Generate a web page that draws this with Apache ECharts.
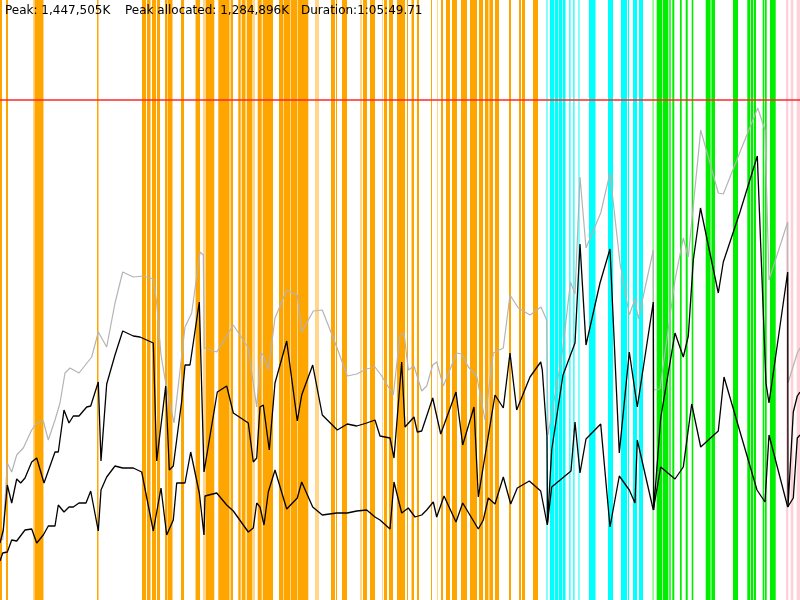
<!DOCTYPE html>
<html>
<head>
<meta charset="utf-8">
<script src="https://cdn.jsdelivr.net/npm/echarts@6/dist/echarts.min.js"></script>
<style>html,body{margin:0;padding:0;background:#fff}#c{width:800px;height:600px}</style>
</head>
<body>
<div id="c"></div>
<script>
// Time axis in units of 1/800 of the run; heap axis in units where the peak line sits at 500.
const peakLevel = 500;
const headerTexts = ['Peak: 1,447,505K', 'Peak allocated: 1,284,896K', 'Duration:1:05:49.71'];

// [start, end] time spans of collector events
const orangeBands = [[0,2],[6,8],[34.5,43],[97,98.5],[142,146],[147,150.5],[152,156],[157,160],[165,167.5],[168,172.5],[181,184],[196,200],
  [206,214.3],[218.3,229.3],[231,233],[238.3,240.7],[241.7,245.5],[246.7,252],[257.7,261.7],[262.7,273],[279,283],[284,290],[291,297],[298,308.3],
  [331,335],[336,337],[342,347],[363,367],[370,375],[384,387],[389,393],[397,405],[407,408],[412,414],[417,419],[431,432],[441,443],
  [446,450],[452,457],[461,467],[470,477],[479,483],[485,488],[489.5,493],[495,499],[509,511],[519,521],[522,525],[533,538]];
const lightOrangeBands = [[33,34.5],[43,44],[195,196],[203,206],[229.3,231],[252,255],[283,284],[290,291],[297,298],[315,319],[360,362],
  [382,383],[411,412],[437,438],[488,489.5]];
const cyanBands = [[546.5,547.5],[550,554],[554.7,558],[558.7,562],[562.7,565.5],[569.3,570.5],[573.3,574.5],[578.5,579.5],[589,595.5],
  [608,613],[621,627],[628,629],[633,637],[639,643]];
const greenBands = [[656.7,662],[662.7,668.3],[669.3,670.7],[672.3,674.3],[680,681.7],[685.7,687.7],[691.7,693.3],[705.7,710.5],[711.5,715],
  [733,738],[747.3,750],[750.7,753],[753.7,756],[762.7,764],[764.7,766.7],[770,775.7]];
const lightGreenBands = [[652.3,654],[710.5,711.5]];
const pinkBands = [[786,788.3],[790.7,793.3],[796.7,800]];

// heap after collection (grey), used heap (upper black), live set (lower black): [time, level]
const heapTotal = [[2.7,60],[7.3,137],[11.7,128],[16.7,145],[23.3,152],[31.7,170],[36.7,177],[43.3,179],[48.3,160],[55,180],[60,197],[65,227],
  [70,232],[79,227],[91.7,243],[98.3,268],[106.7,253],[115,297],[122.7,328],[133.3,323],[143.3,324],[153.3,321],[156.7,297],[161,245],
  [165.7,217],[174,177],[185,273],[191.7,287],[200,348],[203.3,345],[204.3,252],[216.7,248],[233.3,275],[248.3,252],[256.7,193],[261,247],
  [263.3,245],[268.3,230],[275,282],[286.7,310],[297.3,305],[301.7,268],[313.3,289],[322.3,290],[336.7,253],[347.3,224],[356.7,226],
  [366.7,231],[375,233],[381.7,224],[393.3,205],[400,265],[404,267],[408.3,230],[414,234],[421.7,209],[426.7,214],[432.7,235],[436.7,238],
  [443.3,214],[456.7,247],[461.7,246],[468.3,233],[476.7,224],[478.3,223],[485,180],[493.3,247],[503.3,252],[510,305],[518.3,292],
  [530,285],[541,293],[546.7,280],[548,165],[562,245],[570.5,318],[575,306],[580,423],[586,352],[600.7,387],[610,427],[620,337],
  [629.3,285],[635,301],[638.3,281],[653.3,350],[653.7,210],[660,211],[675,320],[683.3,362],[688.3,343],[700.7,470],[718.3,407],
  [723.3,406],[740,448],[757.7,492],[765,470],[769,320],[787.7,378],[788,217],[797.3,247],[800,252]];
const heapUsed = [[0,57],[3.3,70],[7.3,115],[11.7,97],[16.7,121],[20.7,117],[25,122],[31.7,138],[36.7,142],[44,117],[55,148],[58.3,148],
  [64,190],[69,177],[73.3,184],[79,184],[86.7,193],[90.7,194],[98.3,218],[101,139],[106.7,216],[115,245],[122.7,269],[133.3,264],
  [140,263],[153.3,257],[156.7,139],[165.7,214],[169.3,130],[173.3,134],[181.7,199],[185,235],[190,235],[199.3,298],[204,128],
  [217.3,208],[226.7,214],[233.3,187],[248.3,177],[253.3,138],[256.7,142],[260,193],[263.3,195],[269.3,150],[275,217],[286.7,259],
  [297.3,179],[301.7,205],[312.7,235],[322.3,185],[337.3,170],[347.3,176],[356.7,174],[366.7,177],[375,180],[380,164],[390,162],
  [394,142],[401.7,238],[405,173],[414,183],[417.3,168],[421.7,169],[432.7,202],[440.7,166],[456,208],[462.7,155],[474,193],[478.3,103],
  [495,205],[503.3,192],[510,247],[516.7,190],[530,223],[540.7,238],[542.3,230],[547,163],[547.5,77],[551.7,150],[563,225],[575,257],
  [580,356],[586,255],[600,317],[610,351],[619.3,147],[629.3,248],[637.3,193],[653.3,298],[653.7,90],[660.7,182],[675,267],[683.3,243],
  [688.3,264],[693.3,340],[700.5,392],[718.3,307],[723.3,338],[740,388],[757.3,444],[766,217],[769,197],[787.7,328],[788,93],
  [793.3,188],[797.3,204],[800,208]];
const liveSet = [[0,39],[2.7,47],[7.3,48],[11.7,60],[16.7,59],[25,70],[31.7,71],[36.7,57],[43.3,65],[48.3,74],[55,74],[58.3,95],[64,88],
  [69,93],[73.3,93],[79,97],[86,97],[90.7,109],[98.3,69],[101,110],[106.7,123],[115,134],[122.7,132],[133.3,132],[141.7,128],[153.3,69],
  [161,112],[166.7,65],[173.3,80],[176.7,117],[185,117],[190.7,148],[199.3,107],[204,65],[205,104],[216.7,107],[226.7,95],[233.3,89],
  [248.3,68],[253.3,72],[256.7,97],[260,93],[264,75],[268.3,108],[275,130],[286.7,91],[297.3,102],[301.7,118],[312.7,93],[322.3,85],
  [336.7,87],[347.3,87],[356.7,89],[366.7,90],[375,83],[380,80],[390,71],[394,118],[401.7,87],[408.3,92],[415,83],[421.7,85],[426.7,90],
  [433.3,98],[436.7,83],[444,104],[456,78],[462.7,97],[478.3,71],[483.3,80],[488.3,102],[495,96],[503.3,123],[510.7,96],[517.3,112],
  [529.3,119],[540.7,109],[547.3,75],[551.7,113],[571,129],[575,178],[580,127],[586,161],[600.7,176],[610,73],[619.3,124],[629.3,110],
  [635,97],[637.3,160],[653.3,90],[660.7,133],[675,121],[683.3,133],[691.7,196],[700.7,153],[718.3,169],[724,223],[757,110],[765,98],
  [769,165],[787.7,93],[793.3,102],[797.3,162],[800,165]];

function areas(list, color) {
  return list.map(b => [{ xAxis: b[0], itemStyle: { color: color, opacity: 1, borderWidth: 0 } }, { xAxis: b[1] }]);
}

const chart = echarts.init(document.getElementById('c'), null, { renderer: 'canvas' });
const font = 'DejaVu Sans';
chart.setOption({
  animation: false,
  backgroundColor: '#ffffff',
  grid: { left: 0, right: 0, top: 0, bottom: 0 },
  xAxis: { type: 'value', min: 0, max: 800, show: false },
  yAxis: { type: 'value', min: 0, max: 600, show: false },
  graphic: [
    { type: 'text', left: 5, top: 5, z: 100, style: { text: headerTexts[0], font: '12px ' + font, fill: '#000' } },
    { type: 'text', left: 125, top: 5, z: 100, style: { text: headerTexts[1], font: '12px ' + font, fill: '#000' } },
    { type: 'text', left: 301, top: 5, z: 100, style: { text: headerTexts[2], font: '12px ' + font, fill: '#000' } }
  ],
  series: [
    {
      type: 'line', data: [], silent: true, z: 1,
      markArea: {
        silent: true,
        label: { show: false },
        data: [].concat(
          areas(lightOrangeBands, '#ffd68a'),
          areas(orangeBands, '#ffa500'),
          areas(cyanBands, '#00ffff'),
          areas(lightGreenBands, '#88ff88'),
          areas(greenBands, '#00ee00'),
          areas(pinkBands, '#ffd0d8')
        )
      },
      markLine: {
        silent: true, symbol: ['none', 'none'], label: { show: false },
        lineStyle: { color: 'rgba(255,40,40,0.75)', width: 2, type: 'solid' },
        data: [{ yAxis: peakLevel }]
      }
    },
    { type: 'line', data: heapTotal, showSymbol: false, silent: true, z: 3, lineStyle: { color: '#b4b4b4', width: 1.2 } },
    { type: 'line', data: heapUsed, showSymbol: false, silent: true, z: 4, lineStyle: { color: '#000000', width: 1.3 } },
    { type: 'line', data: liveSet, showSymbol: false, silent: true, z: 4, lineStyle: { color: '#000000', width: 1.3 } }
  ]
});
</script>
</body>
</html>
